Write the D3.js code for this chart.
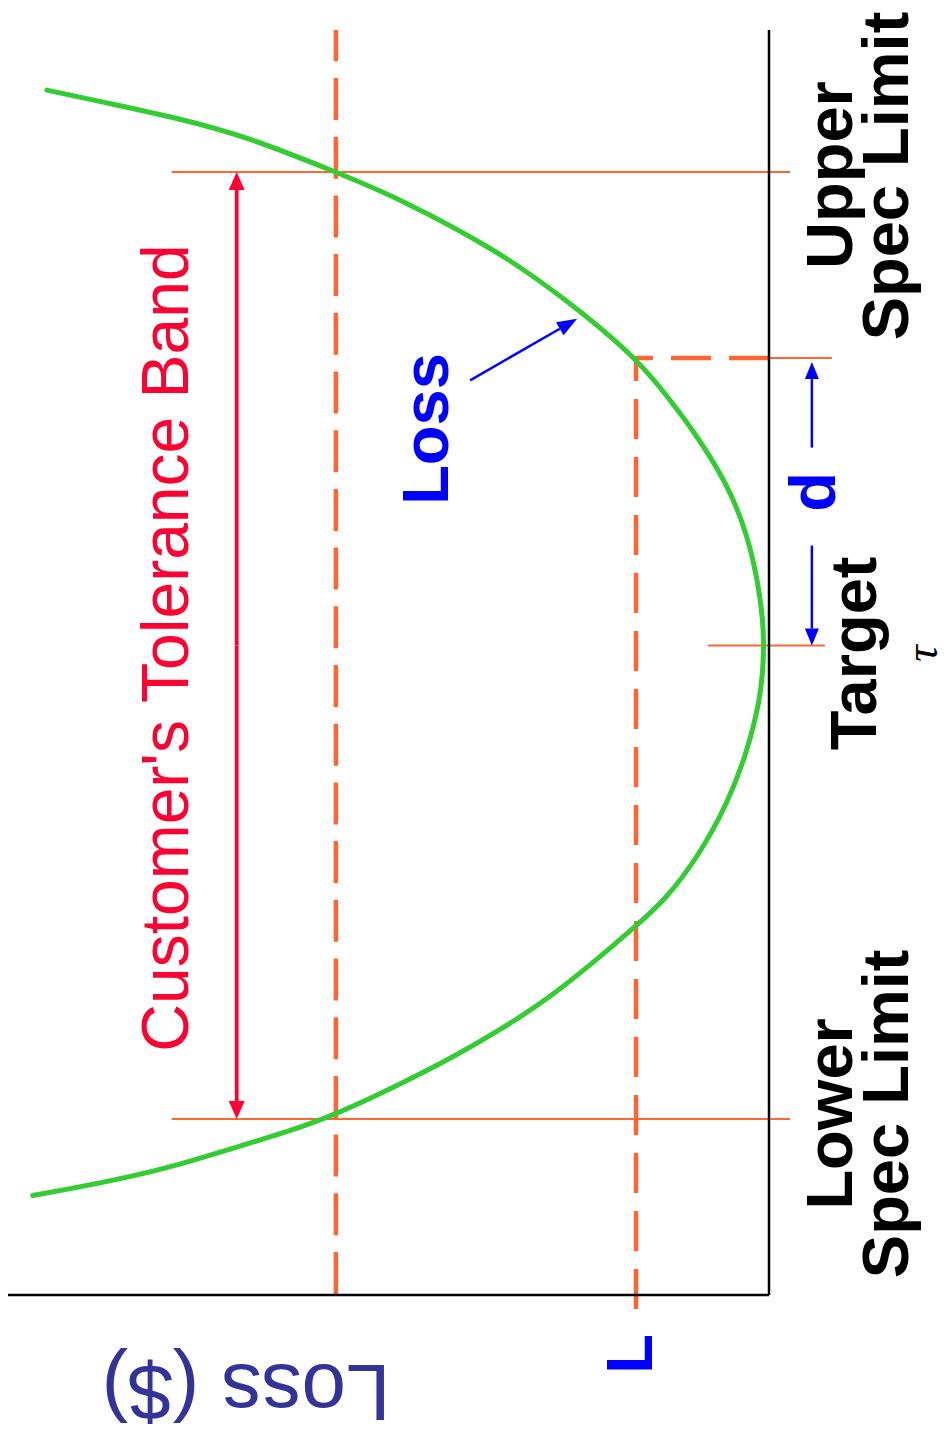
<!DOCTYPE html>
<html>
<head>
<meta charset="utf-8">
<script src="https://cdn.jsdelivr.net/npm/d3@7"></script>
<style>
  html, body { margin: 0; padding: 0; background: #fff; }
  svg { display: block; }
</style>
</head>
<body>
<script>
// ---- Data ----
// spec value: LSL = -1, Target = 0, USL = +1 ; loss: 1 = loss at the spec limits
const curveSpec = [1.173, 1.148, 1.114, 1.074, 1.000, 0.945, 0.835, 0.730, 0.607, 0.519, 0.449, 0.343, 0.238, 0.132, 0.054, 0.001, -0.052, -0.115, -0.221, -0.333, -0.447, -0.538, -0.592, -0.658, -0.749, -0.812, -0.869, -0.922, -0.994, -1.029, -1.062, -1.105, -1.136, -1.162];
const curveLoss = [1.667, 1.540, 1.365, 1.203, 1.000, 0.855, 0.628, 0.467, 0.305, 0.229, 0.171, 0.097, 0.051, 0.025, 0.014, 0.012, 0.014, 0.021, 0.049, 0.095, 0.164, 0.240, 0.307, 0.390, 0.513, 0.621, 0.728, 0.841, 1.007, 1.118, 1.238, 1.390, 1.545, 1.700];
const specNames = [["Lower", "Spec Limit"], ["Target"], ["Upper", "Spec Limit"]];
const specValues = [-1, 0, 1];
const lossAtLimit = 1.0;   // loss where the curve meets the spec limits
const dValue = 0.607;      // deviation d from target
const LValue = 0.307;      // loss L at deviation d

const W = 949, H = 1441;
const svg = d3.select("body").append("svg").attr("width", W).attr("height", H);
svg.append("rect").attr("width", W).attr("height", H).attr("fill", "#fff");

// spec axis runs vertically (up = larger), loss axis horizontally (left = larger)
const spec = d3.scaleLinear().domain([-1.372, 1.3]).range([1295, 30]);
const loss = d3.scaleLinear().domain([0, 1.757]).range([769, 8]);

const FONT = "'Liberation Sans', Arial, Helvetica, sans-serif";
const ORANGE = "#ff6633", GREEN = "#33cc33", RED = "#ff0033", BLUE = "#0000ff";

// ---- dashed reference lines ----
svg.append("line")
  .attr("x1", loss(lossAtLimit)).attr("x2", loss(lossAtLimit))
  .attr("y1", spec(1.3)).attr("y2", spec(-1.372))
  .attr("stroke", ORANGE).attr("stroke-width", 4.5)
  .attr("stroke-dasharray", "42 16.7").attr("stroke-dashoffset", 10.7);

const cornerPath = d3.path();
cornerPath.moveTo(loss(0), spec(dValue));
cornerPath.lineTo(loss(LValue), spec(dValue));
cornerPath.lineTo(loss(LValue), spec(-1.408));
svg.append("path").attr("d", cornerPath.toString())
  .attr("fill", "none").attr("stroke", ORANGE).attr("stroke-width", 4.5)
  .attr("stroke-dasharray", "40 18").attr("stroke-linejoin", "round");

// ---- thin spec lines ----
const thin = (x1, x2, y) => svg.append("line")
  .attr("x1", x1).attr("x2", x2).attr("y1", y).attr("y2", y)
  .attr("stroke", ORANGE).attr("stroke-width", 2);
thin(loss(1.379), loss(-0.0485), spec(specValues[2]));
thin(loss(1.379), loss(-0.0485), spec(specValues[0]));
thin(loss(0.141), loss(-0.129), spec(specValues[1]));
thin(loss(0), loss(-0.145), spec(dValue));

// ---- axes ----
svg.append("line").attr("x1", loss(0)).attr("x2", loss(0))
  .attr("y1", spec(1.3)).attr("y2", spec(-1.372))
  .attr("stroke", "#000").attr("stroke-width", 2.5);
svg.append("line").attr("x1", loss(1.757)).attr("x2", loss(0))
  .attr("y1", spec(-1.372)).attr("y2", spec(-1.372))
  .attr("stroke", "#000").attr("stroke-width", 2.5);

// ---- loss curve ----
const pts = curveSpec.map((s, i) => ({ s, l: curveLoss[i] }));
svg.append("path").datum(pts)
  .attr("d", d3.line().x(d => loss(d.l)).y(d => spec(d.s)).curve(d3.curveBasis))
  .attr("fill", "none").attr("stroke", GREEN).attr("stroke-width", 5)
  .attr("stroke-linecap", "round");

// ---- arrows ----
function arrow(x1, y1, x2, y2, color, w, hl, hw) {
  const a = Math.atan2(y2 - y1, x2 - x1);
  const bx = x2 - hl * Math.cos(a), by = y2 - hl * Math.sin(a);
  svg.append("line").attr("x1", x1).attr("y1", y1).attr("x2", bx).attr("y2", by)
    .attr("stroke", color).attr("stroke-width", w);
  const px = -Math.sin(a) * hw / 2, py = Math.cos(a) * hw / 2;
  svg.append("polygon")
    .attr("points", `${x2},${y2} ${bx + px},${by + py} ${bx - px},${by - py}`)
    .attr("fill", color);
}
const bandX = loss(1.229);
const bandMid = (spec(1) + spec(-1)) / 2;
arrow(bandX, bandMid, bandX, spec(1), RED, 3.8, 18, 16);
arrow(bandX, bandMid, bandX, spec(-1), RED, 3.8, 18, 16);
const dX = loss(-0.099);
arrow(dX, spec(0.418), dX, spec(dValue) + 4, BLUE, 2.5, 17, 14);
arrow(dX, spec(0.211), dX, spec(0), BLUE, 2.5, 17, 14);
arrow(loss(0.69), spec(0.56), loss(0.443), spec(0.69), BLUE, 2.5, 20, 15);

// ---- text ----
function vtext(str, x, y, size, color, weight, rot, extra) {
  const t = svg.append("text")
    .attr("transform", `translate(${x},${y}) rotate(${rot})`)
    .attr("text-anchor", "middle")
    .attr("font-family", FONT).attr("font-size", size)
    .attr("font-weight", weight).attr("fill", color).text(str);
  if (extra) extra(t);
  return t;
}
vtext(specNames[2][0], 852, spec(specValues[2]) + 3, 65, "#000", "bold", -90);
vtext(specNames[2][1], 908, spec(specValues[2]) + 4, 65, "#000", "bold", -90);
vtext(specNames[0][0], 852, spec(specValues[0]) - 5, 65, "#000", "bold", -90);
vtext(specNames[0][1], 908, spec(specValues[0]) - 5, 65, "#000", "bold", -90);
vtext(specNames[1][0], 876, spec(specValues[1]) + 8, 65, "#000", "bold", -90);
vtext("τ", 937, spec(specValues[1]) + 8, 46, "#000", "normal", -90,
  t => t.attr("font-style", "italic").attr("font-family", "'Liberation Serif', 'DejaVu Serif', serif"));
vtext("Customer's Tolerance Band", 188, 648, 66, RED, "normal", -90);
vtext("Loss", 448, 429, 65, BLUE, "bold", -90);
vtext("d", 835, 492, 65, BLUE, "bold", -90);
vtext("L", 652, 1354, 65, BLUE, "bold", -90);
vtext("Loss ($)", 246, 1365, 80, "#333399", "normal", 180);
</script>
</body>
</html>
